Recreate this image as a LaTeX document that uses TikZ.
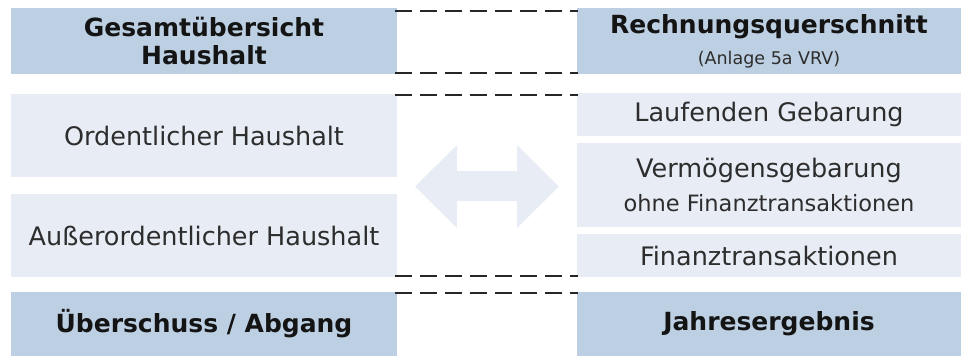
\documentclass[tikz,border=0pt]{standalone}
\usepackage{fontspec}
\setmainfont{DejaVu Sans}
\definecolor{darkbox}{RGB}{189,207,226}
\definecolor{lightbox}{RGB}{232,237,245}
\definecolor{txt}{RGB}{45,45,45}
\definecolor{btxt}{RGB}{20,20,20}
\tikzset{
  box/.style={inner sep=0pt, outer sep=0pt, anchor=north west, align=center},
  hbox/.style={box, fill=darkbox, text=btxt, font=\bfseries\fontsize{25}{28}\selectfont},
  lbox/.style={box, fill=lightbox, text=txt, font=\fontsize{25.5}{30}\selectfont},
  dash line/.style={draw=black!85, line width=1.4pt, dash pattern=on 17pt off 8pt}
}
\begin{document}
\begin{tikzpicture}[x=1pt,y=-1pt]
\useasboundingbox (0,0) rectangle (961,356);
% left column
\node[hbox, minimum width=386pt, minimum height=66pt] (gh) at (11,8) {Gesamtübersicht\\Haushalt};
\node[lbox, minimum width=386pt, minimum height=83pt] (oh) at (11,94) {Ordentlicher Haushalt};
\node[lbox, minimum width=386pt, minimum height=83pt] (ah) at (11,194) {Außerordentlicher Haushalt};
\node[hbox, minimum width=386pt, minimum height=64pt] (ua) at (11,292) {Überschuss / Abgang};
% right column
\node[hbox, minimum width=384pt, minimum height=66pt] (rq) at (577,8) {Rechnungsquerschnitt\\[3pt]{\mdseries\fontsize{17.5}{20}\selectfont\color{txt}(Anlage 5a VRV)}};
\node[lbox, minimum width=384pt, minimum height=43pt] (lg) at (577,93) {Laufenden Gebarung};
\node[lbox, minimum width=384pt, minimum height=84pt] (vg) at (577,143) {Vermögensgebarung\\[4pt]{\fontsize{22.5}{24}\selectfont ohne Finanztransaktionen}};
\node[lbox, minimum width=384pt, minimum height=43pt] (ft) at (577,234) {Finanztransaktionen};
\node[hbox, minimum width=384pt, minimum height=64pt] (je) at (577,292) {Jahresergebnis};
% double arrow
\fill[lightbox] (415,186.5) -- (457,145) -- (457,171) -- (517,171) -- (517,145) -- (559,186.5)
  -- (517,228) -- (517,201) -- (457,201) -- (457,228) -- cycle;
% dashed lines
\coordinate (d1a) at (395,11);  \coordinate (d1b) at (578,11);
\coordinate (d2a) at (395,73);  \coordinate (d2b) at (578,73);
\coordinate (d3a) at (395,95);  \coordinate (d3b) at (578,95);
\coordinate (d4a) at (395,276); \coordinate (d4b) at (578,276);
\coordinate (d5a) at (395,293); \coordinate (d5b) at (578,293);
\draw[dash line] (d1a) -- (d1b);
\draw[dash line] (d2a) -- (d2b);
\draw[dash line] (d3a) -- (d3b);
\draw[dash line] (d4a) -- (d4b);
\draw[dash line] (d5a) -- (d5b);
\end{tikzpicture}
\end{document}
